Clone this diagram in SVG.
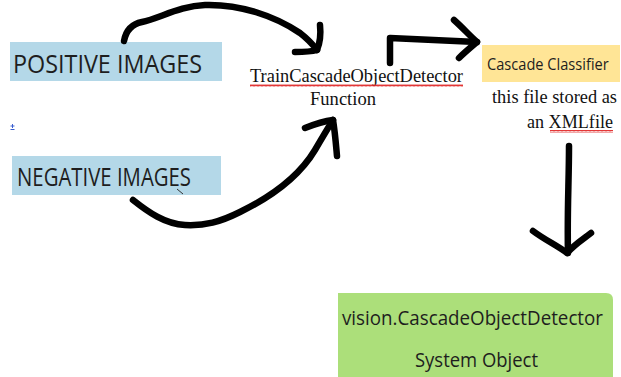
<svg xmlns="http://www.w3.org/2000/svg" width="621" height="377" viewBox="0 0 621 377">
  <style>
    .lbl { font-family: "Open Sans", "Liberation Sans", sans-serif; fill: #1e1e1e; }
    .ser { font-family: "Liberation Serif", "Times New Roman", serif; fill: #111; font-size: 18px; }
    .pen { fill: none; stroke: #000; stroke-width: 6.5; stroke-linecap: round; stroke-linejoin: round; }
  </style>
  <defs>
    <pattern id="wave" width="4" height="3" patternUnits="userSpaceOnUse">
      <path d="M0 2.5 L1 0.5 L2 2.5 L3 0.5 L4 2.5" fill="none" stroke="#e02020" stroke-width="0.9"/>
    </pattern>
  </defs>
  <rect width="621" height="377" fill="#fff"/>

  <g id="positive">
    <rect x="10" y="42" width="212" height="39" fill="#b4d8e8"/>
    <text class="lbl" x="13" y="73" font-size="26" textLength="189" lengthAdjust="spacingAndGlyphs">POSITIVE IMAGES</text>
  </g>

  <g id="anchor-mark">
    <path d="M10.5 126 h4 M12.5 124 v4 M10.5 129.5 h4" stroke="#3a5fd0" stroke-width="1" fill="none"/>
  </g>

  <g id="negative">
    <rect x="12" y="156" width="209" height="39" fill="#b4d8e8"/>
    <text class="lbl" x="17" y="186" font-size="25" textLength="174" lengthAdjust="spacingAndGlyphs">NEGATIVE IMAGES</text>
    <path d="M177 189 L183 194" stroke="#333" stroke-width="1" fill="none"/>
  </g>

  <g id="train-function">
    <text class="ser" x="250" y="82" textLength="213" lengthAdjust="spacingAndGlyphs">TrainCascadeObjectDetector</text>
    <rect x="250" y="84" width="213" height="3" fill="url(#wave)"/>
    <text class="ser" x="310" y="105" textLength="66" lengthAdjust="spacingAndGlyphs">Function</text>
  </g>

  <g id="cascade-classifier">
    <rect x="482" y="45" width="138" height="37" fill="#ffe596"/>
    <text class="lbl" transform="translate(487 70) scale(0.86 1)" font-size="17">Cascade Classifier</text>
    <text class="ser" x="492" y="103" textLength="125" lengthAdjust="spacingAndGlyphs">this file stored as</text>
    <text class="ser" x="527" y="128" textLength="86" lengthAdjust="spacingAndGlyphs">an XMLfile</text>
    <rect x="550" y="130" width="63" height="3" fill="url(#wave)"/>
  </g>

  <g id="system-object">
    <path d="M338 293 H606 Q613 293 613 300 V377 H338 Z" fill="#acdf7a"/>
    <text class="lbl" x="342" y="325" font-size="20" textLength="261" lengthAdjust="spacingAndGlyphs">vision.CascadeObjectDetector</text>
    <text class="lbl" x="415" y="367" font-size="20" textLength="123" lengthAdjust="spacingAndGlyphs">System Object</text>
  </g>

  <g id="connectors">
    <!-- positive images to training function -->
    <path class="pen" d="M124 41 C126 30 132 24 142 22 C160 18 180 6 205 5 C240 4 275 16 300 33 C309 40 314 46 317 50"/>
    <path class="pen" d="M320 25 C321 35 320 43 317 50 C310 52 300 52 295 52"/>
    <!-- negative images to training function -->
    <path class="pen" d="M133 200 C148 212 165 224 185 225 C205 226 220 222 240 212 C275 195 300 175 315 150 C322 138 328 128 333 120"/>
    <path class="pen" d="M305 128 C315 124 325 121 333 120 C335 132 336 145 337 156"/>
    <!-- training function to cascade classifier -->
    <path class="pen" d="M390 63 L390 38 L477 42"/>
    <path class="pen" d="M454 20 C463 28 470 36 477 42 C470 48 464 53 459 58"/>
    <!-- cascade classifier to system object -->
    <path class="pen" d="M569 146 C569 180 567 215 568 253"/>
    <path class="pen" d="M533 231 C545 240 558 246 567 253 C575 244 582 240 591 233"/>
  </g>
</svg>
